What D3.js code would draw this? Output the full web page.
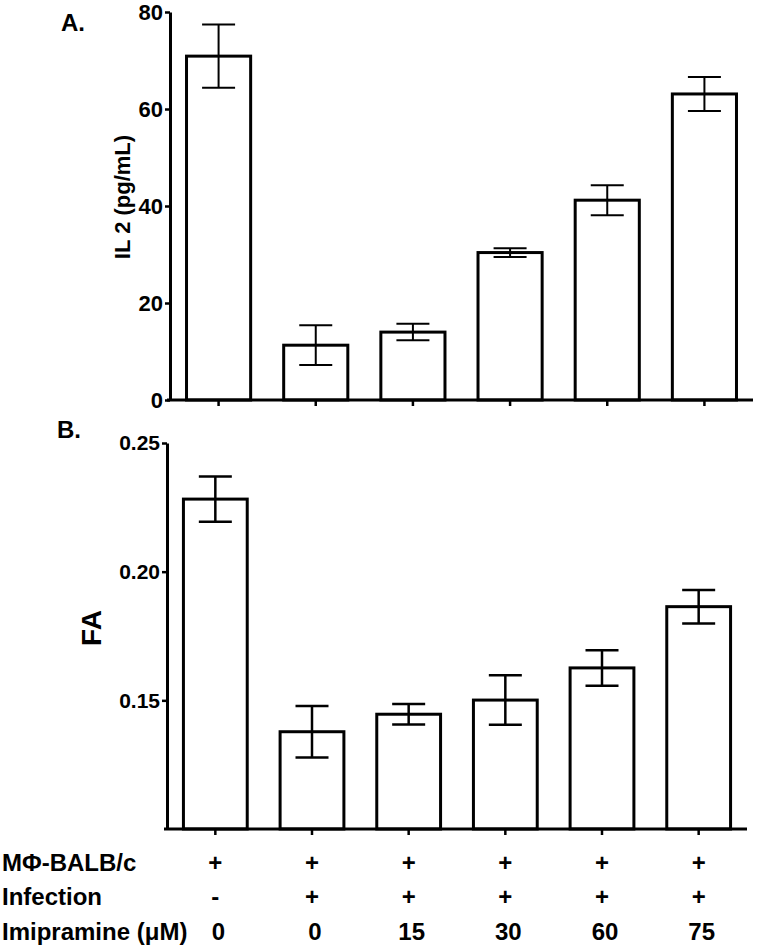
<!DOCTYPE html>
<html>
<head>
<meta charset="utf-8">
<script src="https://cdn.jsdelivr.net/npm/d3@7"></script>
<style>
  body { margin: 0; background: #fff; }
  svg text { font-family: "Liberation Sans", Arial, sans-serif; font-weight: bold; fill: #000; }
</style>
</head>
<body>
<svg id="chart" width="758" height="947"></svg>
<script>
// groups (one bar per group in each panel)
var groups = ["g1", "g2", "g3", "g4", "g5", "g6"];

// panel A: IL 2 (pg/mL), mean and error
var il2Mean = [70.9, 11.3, 14.0, 30.4, 41.2, 63.1];
var il2Err  = [6.5, 4.1, 1.7, 0.9, 3.1, 3.5];
var il2Ticks = [0, 20, 40, 60, 80];

// panel B: FA, mean and error
var faMean = [0.2282, 0.1378, 0.1446, 0.1501, 0.1626, 0.1864];
var faErr  = [0.0088, 0.0100, 0.0040, 0.0096, 0.0069, 0.0065];
var faTicks = [0.15, 0.20, 0.25];

// condition table under the chart
var rowNames = ["M\u03A6-BALB/c", "Infection", "Imipramine (\u03BCM)"];
var rowMac = ["+", "+", "+", "+", "+", "+"];
var rowInf = ["-", "+", "+", "+", "+", "+"];
var rowImi = ["0", "0", "15", "30", "60", "75"];

var svg = d3.select("#chart");

// draws one bar panel with error bars
function drawPanel(opt) {
    var x = d3.scaleBand()
        .domain(groups)
        .range(opt.xRange)
        .paddingInner(0.34)
        .paddingOuter(0.17);
    var y = d3.scaleLinear()
        .domain(opt.yDomain)
        .range(opt.yRange);

    var g = svg.append("g");

    // bars
    g.selectAll(".bar")
        .data(opt.mean)
        .enter()
        .append("rect")
        .attr("class", "bar")
        .attr("x", function (d, i) { return x(groups[i]); })
        .attr("y", function (d) { return y(d); })
        .attr("width", x.bandwidth())
        .attr("height", function (d) { return y(opt.yDomain[0]) - y(d); })
        .attr("fill", "#fff")
        .attr("stroke", "#000")
        .attr("stroke-width", 3);

    // error bars
    var capW = 33;
    var eb = g.selectAll(".err")
        .data(opt.mean)
        .enter()
        .append("g")
        .attr("class", "err")
        .attr("stroke", "#000")
        .attr("stroke-width", opt.errWidth);
    eb.append("line")
        .attr("x1", function (d, i) { return x(groups[i]) + x.bandwidth() / 2; })
        .attr("x2", function (d, i) { return x(groups[i]) + x.bandwidth() / 2; })
        .attr("y1", function (d, i) { return y(d + opt.err[i]); })
        .attr("y2", function (d, i) { return y(d - opt.err[i]); });
    [1, -1].forEach(function (s) {
        eb.append("line")
            .attr("x1", function (d, i) { return x(groups[i]) + x.bandwidth() / 2 - capW / 2; })
            .attr("x2", function (d, i) { return x(groups[i]) + x.bandwidth() / 2 + capW / 2; })
            .attr("y1", function (d, i) { return y(d + s * opt.err[i]); })
            .attr("y2", function (d, i) { return y(d + s * opt.err[i]); });
    });

    // y axis
    var yAxis = g.append("g")
        .attr("transform", "translate(" + opt.xRange[0] + ",0)")
        .call(d3.axisLeft(y).tickValues(opt.ticks).tickFormat(opt.fmt).tickSize(5).tickSizeOuter(0).tickPadding(2));
    // x axis (ticks only, no labels)
    var xAxis = g.append("g")
        .attr("transform", "translate(0," + opt.yRange[0] + ")")
        .call(d3.axisBottom(x).tickSize(6).tickSizeOuter(0).tickFormat(""));

    [yAxis, xAxis].forEach(function (a) {
        a.select(".domain").attr("stroke", "#000").attr("stroke-width", 3);
        a.selectAll(".tick line").attr("stroke", "#000").attr("stroke-width", 2.5);
    });
    xAxis.select(".domain").attr("d", "M" + (opt.xRange[0] - 3) + ",0H" + opt.xRange[1]);
    yAxis.selectAll(".tick text")
        .attr("font-size", opt.tickFont + "px")
        .attr("font-family", "'Liberation Sans', Arial, sans-serif")
        .attr("font-weight", "bold")
        .attr("fill", "#000");

    // y label
    g.append("text")
        .attr("transform", "translate(" + opt.labelX + "," + opt.labelY + ") rotate(-90)")
        .attr("text-anchor", "middle")
        .attr("font-size", opt.labelFont + "px")
        .text(opt.label);
    // panel letter
    g.append("text")
        .attr("x", opt.letterPos[0])
        .attr("y", opt.letterPos[1])
        .attr("font-size", "24px")
        .text(opt.letter);

    return x;
}

drawPanel({
    mean: il2Mean, err: il2Err, ticks: il2Ticks, fmt: d3.format("d"),
    xRange: [170, 753], yDomain: [0, 80], yRange: [400, 12],
    errWidth: 2, tickFont: 22,
    label: "IL 2 (pg/mL)", labelX: 130, labelY: 197, labelFont: 22,
    letter: "A.", letterPos: [61, 31]
});

var xB = drawPanel({
    mean: faMean, err: faErr, ticks: faTicks, fmt: d3.format(".2f"),
    xRange: [167, 747], yDomain: [0.10, 0.25], yRange: [829, 443],
    errWidth: 2.5, tickFont: 21,
    label: "FA", labelX: 101, labelY: 628, labelFont: 28,
    letter: "B.", letterPos: [57, 438]
});

// condition table
var rows = [rowMac, rowInf, rowImi];
var rowY = [871, 905, 940];
var table = svg.append("g").attr("font-size", "24px");
rows.forEach(function (row, r) {
    table.append("text")
        .attr("x", 2)
        .attr("y", rowY[r])
        .text(rowNames[r]);
    table.selectAll(".c" + r)
        .data(row)
        .enter()
        .append("text")
        .attr("class", "c" + r)
        .attr("x", function (d, i) { return xB(groups[i]) + xB.bandwidth() / 2 + (r === 2 ? 3 : 0); })
        .attr("y", rowY[r])
        .attr("text-anchor", "middle")
        .text(function (d) { return d; });
});
</script>
</body>
</html>
